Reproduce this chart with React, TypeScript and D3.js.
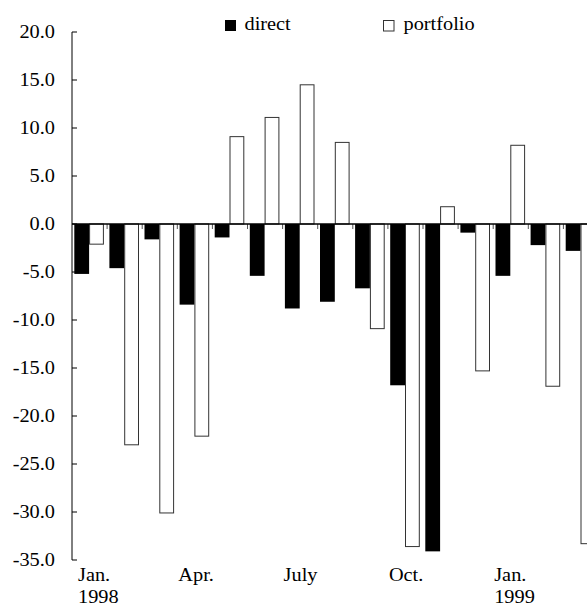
import React from "react";
import * as d3 from "d3";

const months = ["Jan98","Feb98","Mar98","Apr98","May98","Jun98","Jul98","Aug98","Sep98","Oct98","Nov98","Dec98","Jan99","Feb99","Mar99"];
const direct = [-5.2, -4.6, -1.6, -8.4, -1.4, -5.4, -8.8, -8.1, -6.7, -16.8, -34.1, -0.9, -5.4, -2.2, -2.8];
const portfolio = [-2.1, -23.0, -30.1, -22.1, 9.1, 11.1, 14.5, 8.5, -10.9, -33.6, 1.8, -15.3, 8.2, -16.9, -33.3];
const yTicks = [20, 15, 10, 5, 0, -5, -10, -15, -20, -25, -30, -35];
const xLabels = [
  { m: "Jan98", lines: ["Jan.", "1998"] },
  { m: "Apr98", lines: ["Apr."] },
  { m: "Jul98", lines: ["July"] },
  { m: "Oct98", lines: ["Oct."] },
  { m: "Jan99", lines: ["Jan.", "1999"] },
];
const seriesNames = ["direct", "portfolio"];

const W = 587, H = 610;
const FONT = "Liberation Serif, DejaVu Serif, serif";
const SX = 1.13;

export default function App() {
  const x = d3.scaleBand<string>().domain(months).range([72, 72 + 35.1 * months.length]).padding(0);
  const inner = d3.scaleBand<string>().domain(seriesNames).range([2.3, 31.9]).padding(0);
  const y = d3.scaleLinear().domain([-35, 20]).range([560, 32]);
  const y0 = y(0);

  const bar = (v: number) => ({ top: Math.min(y(v), y0), h: Math.abs(y(v) - y0) });

  const txt = (tx: number, ty: number, s: string, anchor: string, key: string) => (
    <text key={key} transform={`translate(${tx},${ty}) scale(${SX},1)`} textAnchor={anchor}
      style={{ fontFamily: FONT, fontSize: "18px" }} fill="#000">{s}</text>
  );

  return (
    <svg width={W} height={H} style={{ position: "absolute", left: 0, top: 0, background: "#fff" }}>
      {months.map((m, i) => {
        const b = bar(direct[i]);
        return <rect key={"d" + m} x={x(m)! + inner("direct")!} y={b.top} width={inner.bandwidth()} height={b.h} fill="#000" />;
      })}
      {months.map((m, i) => {
        const b = bar(portfolio[i]);
        return <rect key={"p" + m} x={x(m)! + inner("portfolio")! + 0.5} y={b.top} width={inner.bandwidth() - 1} height={b.h}
          fill="#fff" stroke="#333" strokeWidth={1} />;
      })}
      {months.map((m, i) => i > 0 ? (
        <line key={"t" + m} x1={x(m)!} x2={x(m)!} y1={y0} y2={y0 + 5} stroke="#555" strokeWidth={1} />
      ) : null)}
      <line x1={72} x2={W} y1={y0} y2={y0} stroke="#000" strokeWidth={1.5} />
      <line x1={72} x2={72} y1={y(20)} y2={y(-35)} stroke="#000" strokeWidth={1} />
      {yTicks.map(t => (
        <g key={"yt" + t}>
          <line x1={72} x2={77} y1={y(t)} y2={y(t)} stroke="#000" strokeWidth={1} />
          {txt(55, y(t) + 6.3, t.toFixed(1), "end", "yl" + t)}
        </g>
      ))}
      {xLabels.map(l => {
        const lx = Math.max(x(l.m)! + 1, 78);
        return <g key={"xl" + l.m}>{l.lines.map((s, j) => txt(lx, 581 + j * 22, s, "start", l.m + j))}</g>;
      })}
      <rect x={225} y={20} width={11} height={11} fill="#000" />
      {txt(244.5, 30, "direct", "start", "lg1")}
      <rect x={383.5} y={20.5} width={10.5} height={10.5} fill="#fff" stroke="#333" strokeWidth={1} />
      {txt(403.5, 30, "portfolio", "start", "lg2")}
    </svg>
  );
}
